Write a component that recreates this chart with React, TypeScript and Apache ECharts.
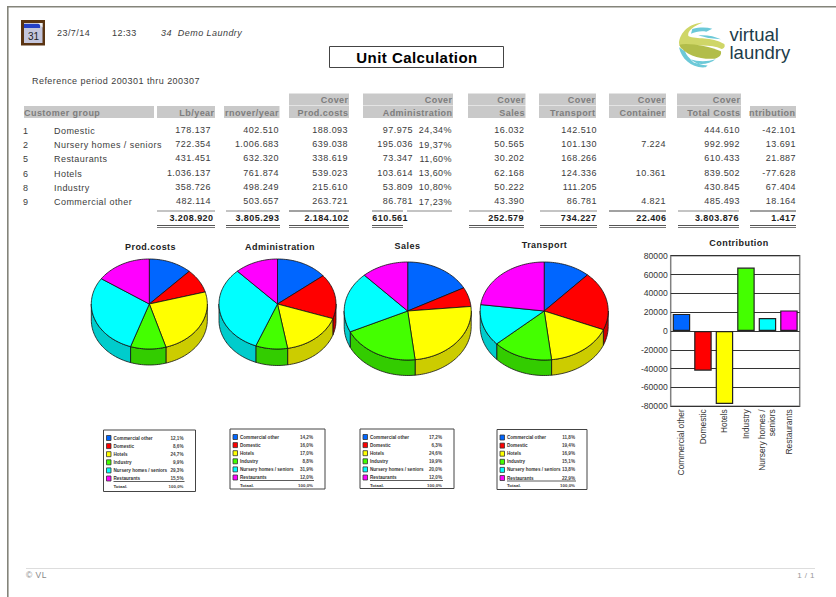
import React, { useEffect, useRef } from "react";
import * as echarts from "echarts";

// ---------- data ----------
const groupCodes = ["1", "2", "5", "6", "8", "9"];
const customerGroups = ["Domestic", "Nursery homes / seniors", "Restaurants", "Hotels", "Industry", "Commercial other"];
const lbYear = [178137, 722354, 431451, 1036137, 358726, 482114];
const turnoverYear = [402510, 1006683, 632320, 761874, 498249, 503657];
const prodCosts = [188093, 639038, 338619, 539023, 215610, 263721];
const administration = [97975, 195036, 73347, 103614, 53809, 86781];
const administrationPct = ["24,34%", "19,37%", "11,60%", "13,60%", "10,80%", "17,23%"];
const sales = [16032, 50565, 30202, 62168, 50222, 43390];
const transport = [142510, 101130, 168266, 124336, 111205, 86781];
const container: (number | null)[] = [null, 7224, null, 10361, null, 4821];
const totalCosts = [444610, 992992, 610433, 839502, 430845, 485493];
const contribution = [-42101, 13691, 21887, -77628, 67404, 18164];
const totalsRow = ["3.208.920", "3.805.293", "2.184.102", "610.561", "252.579", "734.227", "22.406", "3.803.876", "1.417"];

const chartGroups = ["Commercial other", "Domestic", "Hotels", "Industry", "Nursery homes / seniors", "Restaurants"];
const chartGroupOrder = [5, 0, 3, 4, 1, 2]; // table row of each chart group
const yAxisTicks = { min: -80000, max: 80000, interval: 20000 };

const topColors = ["#0066ff", "#ff0000", "#ffff00", "#44ff00", "#00ffff", "#ff00ff"];
const sideColors = ["#0052cc", "#cc0000", "#cccc00", "#33cc00", "#00cccc", "#cc00cc"];

// ---------- layout ----------
const TXT = "#3c3c3c";
const HEAD = "#7d7d7d";
const BAR = "#c9c9c9";
const F = '"Liberation Sans"';
const FC = 'Arial, "Liberation Sans"'; // no extra tracking (see <style>)

const fmt = (n: number) => (n < 0 ? "-" : "") + String(Math.abs(n)).replace(/\B(?=(\d{3})+$)/g, ".");

const txt = (text: string, x: number, y: number, font: string, fill = TXT, align = "left") => ({
  type: "text",
  x,
  y,
  silent: true,
  style: { text, font, fill, textAlign: align, textVerticalAlign: "middle" },
});
const rect = (x: number, y: number, w: number, h: number, fill: string, stroke?: string, lineWidth = 1) => ({
  type: "rect",
  silent: true,
  shape: { x, y, width: w, height: h },
  style: { fill, stroke: stroke ?? "none", lineWidth },
});
const hline = (x1: number, x2: number, y: number, stroke: string, lineWidth = 1) => ({
  type: "line",
  silent: true,
  shape: { x1, y1: y, x2, y2: y },
  style: { stroke, lineWidth },
});

type Col = { x0: number; x1: number; right: number; head: string; cover: boolean; lx0: number; lx1: number };
const cols: Col[] = [
  { x0: 157, x1: 215, right: 211, head: "Lb/year", cover: false, lx0: 157, lx1: 215 },
  { x0: 224, x1: 279.5, right: 279, head: "rnover/year", cover: false, lx0: 226, lx1: 280 },
  { x0: 289, x1: 349, right: 348, head: "Prod.costs", cover: true, lx0: 289, lx1: 349 },
  { x0: 363, x1: 453, right: 413, head: "Administration", cover: true, lx0: 372, lx1: 403 },
  { x0: 468, x1: 525.5, right: 524.5, head: "Sales", cover: true, lx0: 469, lx1: 524 },
  { x0: 539, x1: 596, right: 597, head: "Transport", cover: true, lx0: 540, lx1: 597 },
  { x0: 609, x1: 666, right: 666, head: "Container", cover: true, lx0: 609, lx1: 666 },
  { x0: 677, x1: 741, right: 740, head: "Total Costs", cover: true, lx0: 678, lx1: 739 },
  { x0: 750, x1: 796, right: 796, head: "ntribution", cover: false, lx0: 750, lx1: 796 },
];
const totalsRight = [213.5, 279.5, 348.5, 408, 524, 596.5, 666.5, 739, 796];
const colValues: (number | null)[][] = [lbYear, turnoverYear, prodCosts, administration, sales, transport, container, totalCosts, contribution];
const rowY = [129.5, 144, 158, 172.7, 186.7, 201.3];
const labelY = [130.5, 145, 159, 173.5, 188, 202.3];

function tableGraphics() {
  const out: any[] = [];
  out.push(rect(24, 106, 130, 12, BAR));
  out.push(txt("Customer group", 24, 112.5, `bold 9px ${F}`, HEAD));
  cols.forEach((c, ci) => {
    out.push(rect(c.x0, 106, c.x1 - c.x0, 12, BAR));
    if (c.cover) out.push(rect(c.x0, 93.5, c.x1 - c.x0, 12, BAR));
    const hr = c.x1 - 0.5;
    out.push(txt(c.head, hr, 112.5, `bold 9px ${F}`, HEAD, "right"));
    if (c.cover) out.push(txt("Cover", hr, 100, `bold 9px ${F}`, HEAD, "right"));
    colValues[ci].forEach((v, ri) => {
      if (v != null) out.push(txt(fmt(v), c.right, rowY[ri], `9px ${F}`, TXT, "right"));
    });
    out.push(hline(c.lx0, c.lx1, 211, ci === 2 || ci === 6 || ci === 8 ? "#444" : "#8a8a8a", 1.2));
    out.push(hline(c.lx0, c.lx1, 225.5, "#555", 1));
    out.push(hline(c.lx0, c.lx1, 227.5, "#777", 1));
    out.push(txt(totalsRow[ci], totalsRight[ci], 218, `bold 9px ${F}`, "#1c1c1c", "right"));
  });
  out.push(hline(407, 452, 211, "#8a8a8a", 1.2));
  administrationPct.forEach((p, ri) => out.push(txt(p, 452, rowY[ri] + 0.5, `9px ${F}`, TXT, "right")));
  groupCodes.forEach((g, ri) => out.push(txt(g, 23, labelY[ri], `9px ${F}`)));
  customerGroups.forEach((g, ri) => out.push(txt(g, 54, labelY[ri], `9px ${F}`)));
  return out;
}

function headerGraphics() {
  return [
    rect(7.5, 6, 860, 1.6, "#84847a"),
    rect(7, 6, 1.6, 600, "#84847a"),
    // calendar icon
    rect(21, 20, 24, 25.5, "#5a3412"),
    rect(24, 23, 18.5, 20, "#c4c6dc"),
    rect(24, 24, 16, 4, "#2440c8"),
    { type: "polygon", silent: true, shape: { points: [[38, 23], [42.5, 23], [42.5, 27.5]] }, style: { fill: "#eeeeee" } },
    txt("31", 33.5, 36, `10px ${FC}`, "#222", "center"),
    txt("23/7/14", 57, 32.5, `9px ${F}`),
    txt("12:33", 112, 32.5, `9px ${F}`),
    txt("34  Demo Laundry", 161, 32.5, `italic 9px ${F}`),
    rect(329.5, 46.5, 174, 21, "#ffffff", "#444", 1),
    txt("Unit Calculation", 417, 57.5, `bold 15px ${F}`, "#000", "center"),
    txt("Reference period 200301 thru 200307", 32, 80.5, `9px ${F}`),
    // logo
    {
      type: "group",
      x: 665,
      y: 18,
      scaleX: 1 / 3,
      scaleY: 1 / 3,
      silent: true,
      children: [
        { type: "logoCyanA", style: { fill: "#6cc9d8" } },
        { type: "logoCyanB", style: { fill: "#6cc9d8" } },
        { type: "logoLime", style: { fill: "#cfd667" } },
        { type: "logoOlive", style: { fill: "#b2bd4a" } },
      ],
    },
    txt("virtual", 729.5, 34, `18.5px ${FC}`, "#1c3c4a"),
    txt("laundry", 729.5, 52.5, `18.5px ${FC}`, "#1c3c4a"),
    // footer
    hline(26, 815, 568.5, "#dddddd", 1),
    txt("© VL", 26, 575, `8.5px ${F}`, "#888"),
    txt("1 / 1", 815, 575, `8px ${F}`, "#999", "right"),
  ];
}

const pies = [
  { title: "Prod.costs", values: prodCosts, cx: 149.3, cy: 304, rx: 58, ry: 45, depth: 16, tx: 150.5, ty: 247.5 },
  { title: "Administration", values: administration, cx: 277.5, cy: 304, rx: 58.5, ry: 45, depth: 16.5, tx: 280, ty: 247 },
  { title: "Sales", values: sales, cx: 407.7, cy: 311, rx: 63.5, ry: 49, depth: 15.5, tx: 407.5, ty: 246 },
  { title: "Transport", values: transport, cx: 544.2, cy: 311, rx: 64, ry: 49, depth: 15.5, tx: 544.5, ty: 245 },
];
const legendBoxes = [
  { x: 103.5, y: 430, w: 92, h: 61.5 },
  { x: 230, y: 429, w: 95, h: 60 },
  { x: 360, y: 429, w: 94, h: 59.5 },
  { x: 497, y: 429.5, w: 90, h: 60 },
];

function legendGraphics() {
  const out: any[] = [];
  legendBoxes.forEach((b, bi) => {
    const vals = chartGroupOrder.map((r) => pies[bi].values[r]);
    const sum = vals.reduce((a, c) => a + c, 0);
    out.push(rect(b.x, b.y, b.w, b.h, "#ffffff", "#444", 1));
    vals.forEach((v, i) => {
      const y = b.y + 8 + i * 8.1;
      out.push(rect(b.x + 3, y - 2.5, 4.5, 5, topColors[i], "#333", 0.8));
      out.push(txt(chartGroups[i], b.x + 10, y, `bold 4.6px ${FC}`, "#333"));
      out.push(txt(((v / sum) * 100).toFixed(1).replace(".", ",") + "%", b.x + b.w - 12, y, `bold 4.6px ${FC}`, "#444", "right"));
    });
    out.push(hline(b.x + 10, b.x + b.w - 11, b.y + 51.5, "#333", 0.8));
    out.push(txt("Totaal.", b.x + 10, b.y + 56, `bold 4.4px ${FC}`, "#333"));
    out.push(txt("100,0%", b.x + b.w - 12, b.y + 56, `bold 4.4px ${FC}`, "#444", "right"));
  });
  return out;
}

function pieSeries(p: (typeof pies)[number]) {
  const vals = chartGroupOrder.map((r) => p.values[r]);
  const sum = vals.reduce((a, c) => a + c, 0);
  const pt = (t: number, dy = 0) => [p.cx + p.rx * Math.sin(t), p.cy - p.ry * Math.cos(t) + dy];
  return {
    type: "custom",
    coordinateSystem: "none",
    silent: true,
    data: vals,
    renderItem: (params: any) => {
      const i = params.dataIndex;
      const before = vals.slice(0, i).reduce((a, c) => a + c, 0);
      const a0 = (before / sum) * Math.PI * 2;
      const a1 = ((before + vals[i]) / sum) * Math.PI * 2;
      const children: any[] = [];
      const s0 = Math.max(a0, Math.PI / 2);
      const s1 = Math.min(a1, (Math.PI * 3) / 2);
      if (s1 > s0) {
        const n = Math.max(2, Math.ceil((s1 - s0) * 30));
        const upper: number[][] = [];
        const lower: number[][] = [];
        for (let k = 0; k <= n; k++) {
          const t = s0 + ((s1 - s0) * k) / n;
          upper.push(pt(t));
          lower.unshift(pt(t, p.depth));
        }
        children.push({
          type: "polygon",
          shape: { points: upper.concat(lower) },
          style: { fill: sideColors[i], stroke: "#111", lineWidth: 0.8 },
        });
      }
      const n2 = Math.max(2, Math.ceil((a1 - a0) * 30));
      const top: number[][] = [[p.cx, p.cy]];
      for (let k = 0; k <= n2; k++) top.push(pt(a0 + ((a1 - a0) * k) / n2));
      children.push({
        type: "polygon",
        shape: { points: top },
        style: { fill: topColors[i], stroke: "#111", lineWidth: 0.8 },
      });
      return { type: "group", children };
    },
  };
}

const registerLogo = () => {
  const reg = (name: string, d: string) =>
    echarts.graphic.registerShape(name, (echarts.graphic as any).extendPath(d, {}));
  reg("logoCyanA", "M82 33 C105 27 125 28 142 32 L124 41 C108 38 92 41 78 47 Z M100 52 C125 50 150 55 168 64 L130 60 C118 57 108 55 100 52 Z");
  reg("logoCyanB", "M42 88 C50 125 82 152 122 148 L128 143 C92 141 68 122 60 100 Z M76 124 C98 131 126 132 152 124 C136 138 106 142 86 134 Z");
  reg("logoLime", "M42 76 C44 42 76 14 114 14 C88 22 66 38 70 54 C96 66 138 54 178 78 C181 85 179 91 170 93 C132 76 72 84 48 92 Z");
  reg("logoOlive", "M42 80 C72 74 130 84 168 100 C170 110 165 118 150 122 C110 126 60 112 42 80 Z");
};

export default function App() {
  const ref = useRef<HTMLDivElement>(null);
  useEffect(() => {
    document.body.style.margin = "0";
    registerLogo();
    const chart = echarts.init(ref.current!, undefined, { renderer: "svg" });
    const barValues = chartGroupOrder.map((r, i) => ({
      value: contribution[r],
      itemStyle: { color: topColors[i] },
    }));
    chart.setOption({
      animation: false,
      backgroundColor: "#ffffff",
      title: [
        ...pies.map((p) => ({
          text: p.title,
          left: p.tx,
          top: p.ty - 5,
          textAlign: "center",
          padding: 0,
          textStyle: { fontSize: 9, fontWeight: "bold", color: "#222", fontFamily: F },
        })),
        {
          text: "Contribution",
          left: 739,
          top: 238.5,
          textAlign: "center",
          padding: 0,
          textStyle: { fontSize: 9, fontWeight: "bold", color: "#222", fontFamily: F },
        },
      ],
      grid: { left: 670.7, top: 255.7, width: 129, height: 150.6, show: true, borderColor: "#808080", borderWidth: 1.5, backgroundColor: "#fff" },
      xAxis: {
        type: "category",
        data: chartGroups.map((g) => (g.length > 20 ? "Nursery homes /\nseniors" : g)),
        axisLine: { show: false, onZero: false },
        axisTick: { show: false },
        axisLabel: { rotate: 90, interval: 0, fontSize: 8.4, color: "#333", fontFamily: FC, margin: 3, lineHeight: 10 },
      },
      yAxis: {
        type: "value",
        min: yAxisTicks.min,
        max: yAxisTicks.max,
        interval: yAxisTicks.interval,
        axisLine: { show: false },
        axisTick: { show: false },
        axisLabel: { fontSize: 8.6, color: "#333", fontFamily: FC, margin: 3, formatter: (v: number) => String(v) },
        splitLine: { show: true, lineStyle: { color: "#333", width: 1 } },
      },
      graphic: { elements: [...headerGraphics(), ...tableGraphics(), ...legendGraphics()] },
      series: [
        ...pies.map(pieSeries),
        { type: "bar", data: barValues, barWidth: 17.5, itemStyle: { borderColor: "#222", borderWidth: 1.2 } },
      ],
    });
    return () => chart.dispose();
  }, []);
  return (
    <>
      <style>{`.page text{letter-spacing:.45px} .page text[style*="Arial"]{letter-spacing:0}`}</style>
      <div className="page" ref={ref} style={{ position: "absolute", left: 0, top: 0, width: 836, height: 597 }} />
    </>
  );
}
